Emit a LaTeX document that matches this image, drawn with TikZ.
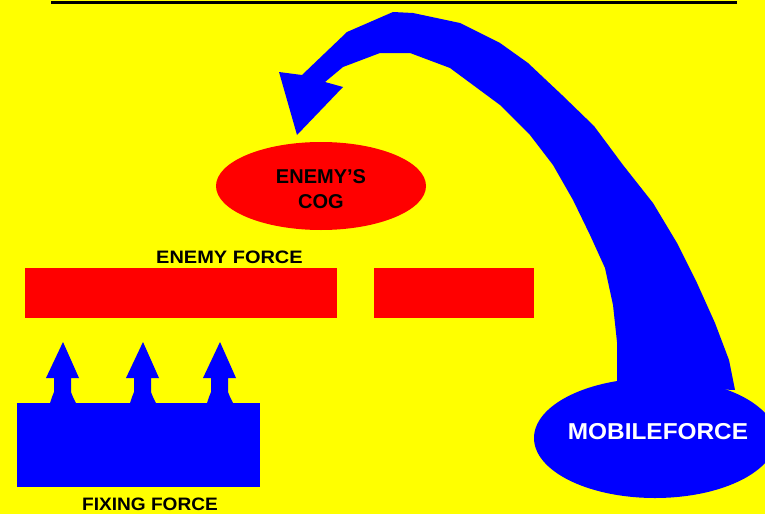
\documentclass[tikz,border=0pt]{standalone}
\usepackage{fontspec}
\setmainfont{Liberation Sans}
\usetikzlibrary{shapes.geometric}
\definecolor{bgyellow}{RGB}{255,255,0}
\definecolor{fblue}{RGB}{0,0,255}
\definecolor{fred}{RGB}{255,0,0}
\tikzset{
  lbl/.style={inner sep=0pt, anchor=base, font=\bfseries\fontsize{18}{20}\selectfont, text=black},
  redbar/.style={rectangle, fill=fred, inner sep=0pt},
  upshape/.style={fill=fblue}
}
\begin{document}
\begin{tikzpicture}[x=1pt,y=-1pt]
\useasboundingbox (0,0) rectangle (765,514);
\fill[bgyellow] (0,0) rectangle (765,514);
\clip (0,0) rectangle (765,514);
% top rule
\draw[line width=3pt] (51,2.5) -- (737,2.5);
% enemy COG
\node[ellipse, fill=fred, minimum width=210pt, minimum height=88pt, inner sep=0pt] (cog) at (321,186) {};
\node[lbl, font=\bfseries\fontsize{20}{22}\selectfont] (cogt1) at (321,183) {ENEMY’S};
\node[lbl, font=\bfseries\fontsize{20}{22}\selectfont] (cogt2) at (321,208) {COG};
% enemy force
\node[lbl] (eft) at (229.5,263) {\scalebox{1.11}[1]{ENEMY FORCE}};
\node[redbar, minimum width=312pt, minimum height=50pt] (ef1) at (181,293) {};
\node[redbar, minimum width=160pt, minimum height=50pt] (ef2) at (454,293) {};
% fixing force
\fill[fblue] (17,403) rectangle (260,487);
\foreach \cx in {63,143,220}{
  \fill[fblue] (\cx,342) -- (\cx+16,378) -- (\cx+8,378) -- (\cx+8,392) -- (\cx+10,397) -- (\cx+13,403)
     -- (\cx-13,403) -- (\cx-11,397) -- (\cx-9,392) -- (\cx-9,378) -- (\cx-17,378) -- cycle;
}
\node[lbl] (fft) at (150,510) {\scalebox{1.06}[1]{FIXING FORCE}};
% mobile force
\fill[fblue] (655,438) ellipse [x radius=121, y radius=60];
\fill[fblue] (735,390) -- (729,360) -- (715,323) -- (697,283) -- (677,243) -- (653,203) -- (623,165)
  -- (594,126) -- (562,95) -- (528,63) -- (500,43) -- (460,23) -- (413,13) -- (393,12) -- (347,32)
  -- (302,75) -- (279,72) -- (297,135) -- (343,87) -- (325,82) -- (343,67) -- (380,53) -- (410,53)
  -- (450,68) -- (500,105) -- (530,135) -- (553,165) -- (573,200) -- (590,235) -- (605,268)
  -- (613,305) -- (617,342) -- (617,385) -- cycle;
\node[lbl, text=white, font=\bfseries\fontsize{23}{25}\selectfont] (mft) at (658,439) {\scalebox{1.06}[1]{MOBILEFORCE}};
\end{tikzpicture}
\end{document}
